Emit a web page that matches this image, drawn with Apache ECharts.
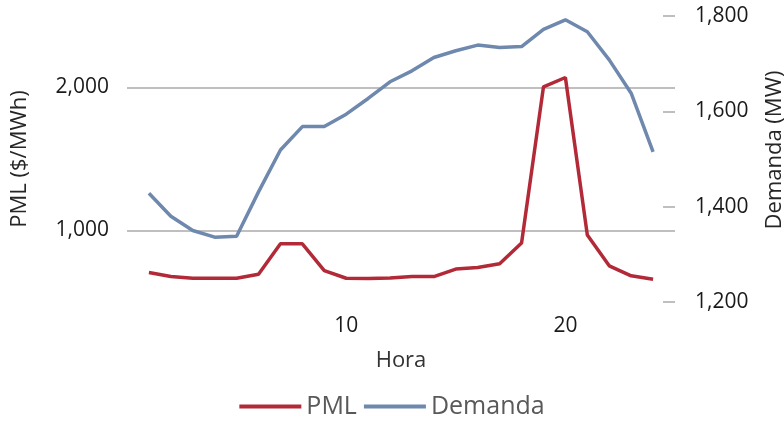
<!DOCTYPE html>
<html><head><meta charset="utf-8">
<script src="https://cdn.jsdelivr.net/npm/echarts@6/dist/echarts.min.js"></script>
<style>html,body{margin:0;padding:0;background:#fff}#c{width:784px;height:423px}</style>
</head><body><div id="c"></div>
<script>
const hours = [1,2,3,4,5,6,7,8,9,10,11,12,13,14,15,16,17,18,19,20,21,22,23,24];
const pml = [706,678,666,666,666,694,907,907,720,666,665,668,678,678,730,741,767,912,2005,2070,968,753,683,659];
const demanda = [1428,1380,1350,1336,1338,1431,1519,1568,1568,1594,1627,1662,1685,1713,1727,1739,1734,1736,1772,1792,1767,1708,1638,1515];
const xTickLabels = [10,20];
const leftTickLabels = [1000,2000];
const rightTickLabels = [1200,1400,1600,1800];

const font = '"Open Sans", "Noto Sans", sans-serif';
const fmt = v => v.toLocaleString('en-US');
const chart = echarts.init(document.getElementById('c'));
chart.setOption({
  animation: false,
  textStyle: {fontFamily: font},
  grid: {left: 127, right: 109, top: 16, bottom: 121, containLabel: false, outerBoundsMode: 'none'},
  legend: {
    top: 389, left: 'center', icon: 'rect', itemWidth: 62, itemHeight: 4, itemGap: 7,
    textStyle: {fontFamily: font, fontSize: 25, color: '#595959'},
    data: ['PML', 'Demanda']
  },
  xAxis: {
    type: 'value', min: 0, max: 25, interval: 10,
    name: 'Hora', nameLocation: 'middle', nameGap: 48,
    nameTextStyle: {fontSize: 22, color: '#333333', fontFamily: font},
    axisLine: {show: false}, axisTick: {show: false}, splitLine: {show: false},
    axisLabel: {fontSize: 21, color: '#1a1a1a', margin: 14,
      formatter: v => xTickLabels.includes(v) ? String(v) : ''}
  },
  yAxis: [{
    type: 'value', min: 500, max: 2500, position: 'left',
    name: 'PML ($/MWh)', nameLocation: 'middle', nameGap: 96,
    nameTextStyle: {fontSize: 22, color: '#262626', fontFamily: font},
    axisLine: {show: false},
    axisTick: {show: false, customValues: leftTickLabels},
    splitLine: {show: true, lineStyle: {color: '#bfbfbf', width: 2}},
    axisLabel: {fontSize: 21, color: '#1a1a1a', margin: 18, customValues: leftTickLabels,
      formatter: v => fmt(v)}
  }, {
    type: 'value', min: 1200, max: 1800, interval: 200, position: 'right',
    name: 'Demanda (MW)', nameLocation: 'middle', nameGap: 89,
    nameTextStyle: {fontSize: 22, color: '#262626', fontFamily: font, padding: [0, 0, 0, 18]},
    axisLine: {show: false},
    axisTick: {show: true, inside: true, length: 12, lineStyle: {color: '#bfbfbf', width: 2}},
    splitLine: {show: false},
    axisLabel: {fontSize: 21, color: '#1a1a1a', margin: 20,
      formatter: v => rightTickLabels.includes(v) ? fmt(v) : ''}
  }],
  series: [{
    name: 'PML', type: 'line', yAxisIndex: 0, symbol: 'none',
    data: hours.map((h, i) => [h, pml[i]]),
    lineStyle: {color: '#B22A38', width: 3.5}, itemStyle: {color: '#B22A38'}, z: 3
  }, {
    name: 'Demanda', type: 'line', yAxisIndex: 1, symbol: 'none',
    data: hours.map((h, i) => [h, demanda[i]]),
    lineStyle: {color: '#6F88AE', width: 3.5}, itemStyle: {color: '#6F88AE'}, z: 2
  }]
});
</script></body></html>
